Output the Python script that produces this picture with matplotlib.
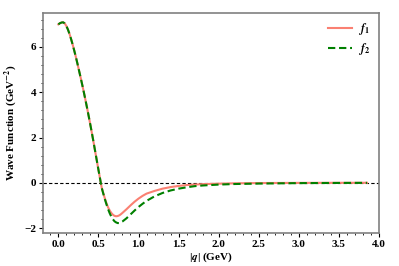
import matplotlib
matplotlib.use("Agg")
import matplotlib.pyplot as plt
from matplotlib.ticker import AutoMinorLocator

plt.rc("font", family="Liberation Serif", weight="bold", size=8)
plt.rcParams["mathtext.fontset"] = "stix"
plt.rcParams["axes.labelweight"] = "bold"

# |q| in GeV, wave functions in GeV^-2
q = [0.00, 0.02, 0.04, 0.06, 0.08, 0.10, 0.12, 0.14, 0.16, 0.18,
     0.20, 0.22, 0.24, 0.26, 0.28, 0.30, 0.32, 0.34, 0.36, 0.38,
     0.40, 0.42, 0.44, 0.46, 0.48, 0.50, 0.52, 0.54, 0.56, 0.58,
     0.60, 0.62, 0.64, 0.66, 0.68, 0.70, 0.72, 0.74, 0.76, 0.78,
     0.80, 0.85, 0.90, 0.95, 1.00, 1.05, 1.10, 1.20, 1.30, 1.40,
     1.50, 1.60, 1.70, 1.80, 2.00, 2.20, 2.50, 3.00, 3.50, 3.85]

f1 = [7.00, 7.05, 7.08, 7.09, 7.04, 6.93, 6.77, 6.57, 6.34, 6.09,
      5.82, 5.54, 5.24, 4.93, 4.62, 4.30, 3.97, 3.63, 3.28, 2.92,
      2.55, 2.17, 1.78, 1.38, 0.98, 0.58, 0.19, -0.20, -0.45, -0.69,
      -0.90, -1.08, -1.22, -1.33, -1.41, -1.46, -1.48, -1.47, -1.44, -1.39,
      -1.33, -1.17, -1.00, -0.84, -0.70, -0.58, -0.48, -0.36, -0.26, -0.19,
      -0.14, -0.10, -0.08, -0.06, -0.04, -0.025, -0.012, -0.005, -0.002, 0.0]

f2 = [7.00, 7.05, 7.08, 7.09, 7.04, 6.93, 6.77, 6.57, 6.34, 6.09,
      5.82, 5.54, 5.24, 4.93, 4.62, 4.30, 3.97, 3.63, 3.28, 2.92,
      2.55, 2.17, 1.78, 1.38, 0.98, 0.58, 0.19, -0.21, -0.47, -0.72,
      -0.95, -1.16, -1.34, -1.49, -1.61, -1.70, -1.75, -1.78, -1.78, -1.75,
      -1.71, -1.57, -1.40, -1.23, -1.07, -0.93, -0.80, -0.60, -0.45, -0.34,
      -0.26, -0.20, -0.15, -0.12, -0.08, -0.055, -0.035, -0.015, -0.007, -0.003]

fig = plt.figure(figsize=(3.99, 2.66), dpi=100)
ax = fig.add_axes([0.108, 0.124, 0.842, 0.827])

ax.axhline(0, color="black", lw=0.8, ls="--", dashes=(3, 2))
ax.plot(q, f1, color="salmon", lw=1.5, label=r"$f_1$")
ax.plot(q, f2, color="green", lw=1.5, ls="--", dashes=(3.5, 1.8), label=r"$f_2$")

ax.set_xlim(-0.19, 4.0)
ax.set_ylim(-2.22, 7.5)
ax.set_xticks([0.0, 0.5, 1.0, 1.5, 2.0, 2.5, 3.0, 3.5, 4.0])
ax.set_yticks([-2, 0, 2, 4, 6])
ax.xaxis.set_minor_locator(AutoMinorLocator(5))
ax.yaxis.set_minor_locator(AutoMinorLocator(5))
ax.tick_params(which="major", length=3, width=0.8, pad=2, labelsize=8)
ax.tick_params(which="minor", length=1.5, width=0.6)
for lab in ax.get_xticklabels() + ax.get_yticklabels():
    lab.set_fontweight("bold")

for s in ax.spines.values():
    s.set_color("gray")
    s.set_linewidth(1.2)

ax.set_xlabel(r"|$\boldsymbol{q}$| (GeV)", fontsize=8, fontweight="bold", labelpad=1)
ax.set_ylabel(r"Wave Function (GeV$^{\mathbf{-2}}$)", fontsize=8,
              fontweight="bold", labelpad=4)

ax.legend(loc="upper right", frameon=False, fontsize=8.5, handlelength=2.0,
          handletextpad=0.6, borderaxespad=0.3, labelspacing=0.35)

fig.savefig("out.png", dpi=100)
